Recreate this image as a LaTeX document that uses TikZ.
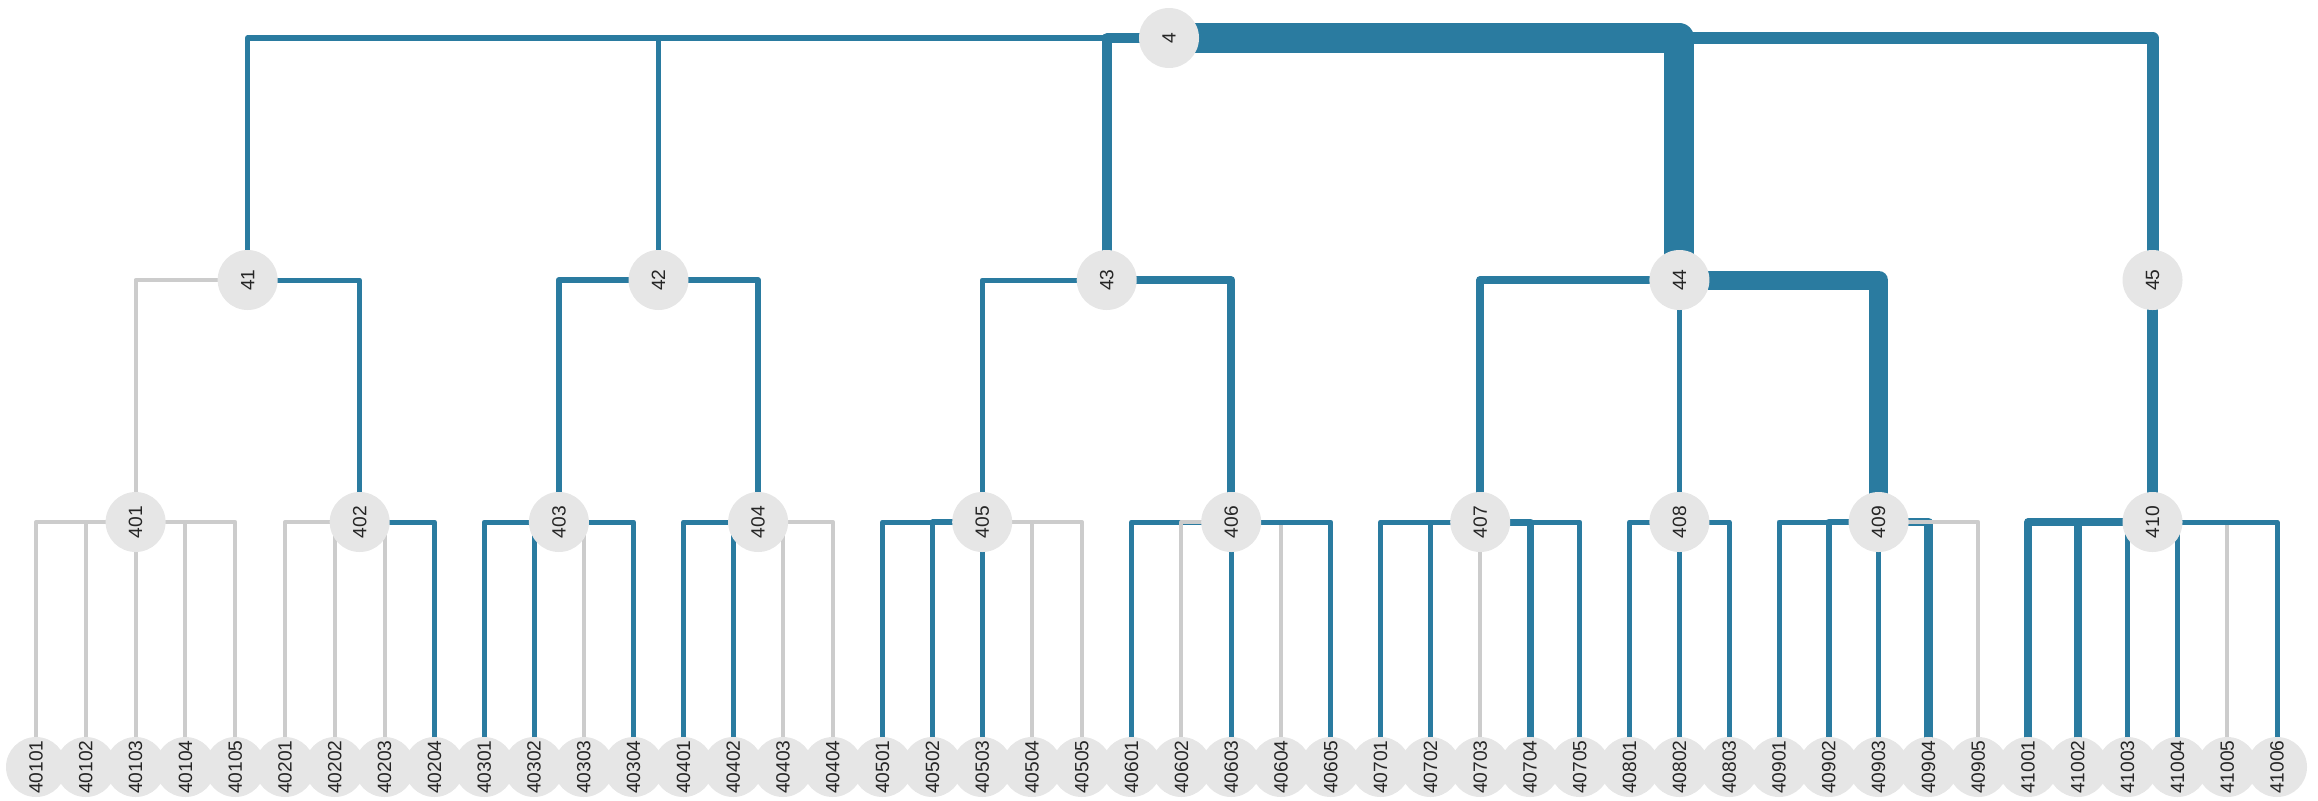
\documentclass[tikz,border=0pt]{standalone}
\usepackage{fontspec}
\setmainfont{Liberation Sans}
\usetikzlibrary{backgrounds}
\definecolor{lblue}{HTML}{2A7BA0}
\definecolor{lgray}{HTML}{CCCCCC}
\definecolor{ngray}{HTML}{E6E6E6}
\begin{document}
\begin{tikzpicture}[x=0.5pt,y=-0.5pt,
  tnode/.style={circle,fill=ngray,inner sep=0pt,minimum size=30pt,rotate=90,
    font=\fontsize{9.6}{11}\selectfont,text=black!85},
  link/.style n args={2}{draw=#1,line width=#2*0.5pt,line join=round}]
\useasboundingbox (0,0) rectangle (2318,800);

% root
\node[tnode] (n4) at (1169,38) {4};
% level 2
\node[tnode] (n41) at (247.65,280) {41};
\node[tnode] (n42) at (658.5,280) {42};
\node[tnode] (n43) at (1106.7,280) {43};
\node[tnode] (n44) at (1679.4,280) {44};
\node[tnode] (n45) at (2152.5,280) {45};
% level 3
\node[tnode] (n401) at (135.6,522) {401};
\node[tnode] (n402) at (359.7,522) {402};
\node[tnode] (n403) at (558.9,522) {403};
\node[tnode] (n404) at (758.1,522) {404};
\node[tnode] (n405) at (982.2,522) {405};
\node[tnode] (n406) at (1231.2,522) {406};
\node[tnode] (n407) at (1480.2,522) {407};
\node[tnode] (n408) at (1679.4,522) {408};
\node[tnode] (n409) at (1878.6,522) {409};
\node[tnode] (n410) at (2152.5,522) {410};
% leaves
\foreach \lab [count=\i from 0] in {40101,40102,40103,40104,40105,40201,40202,40203,40204,40301,40302,40303,40304,40401,40402,40403,40404,40501,40502,40503,40504,40505,40601,40602,40603,40604,40605,40701,40702,40703,40704,40705,40801,40802,40803,40901,40902,40903,40904,40905,41001,41002,41003,41004,41005,41006}
  \node[tnode] (n\lab) at ({36+49.8*\i},767) {\lab};

\begin{scope}[on background layer]
% root links
\foreach \c/\k/\w in {41/lblue/5.5,42/lblue/5.5,43/lblue/10,44/lblue/30,45/lblue/12}
  \draw[link={\k}{\w}] (n4.center) -| (n\c.center);
% level 2 links
\foreach \c/\k/\w in {401/lgray/4,402/lblue/5}
  \draw[link={\k}{\w}] (n41.center) -| (n\c.center);
\foreach \c/\k/\w in {403/lblue/6,404/lblue/6}
  \draw[link={\k}{\w}] (n42.center) -| (n\c.center);
\foreach \c/\k/\w in {405/lblue/5,406/lblue/8}
  \draw[link={\k}{\w}] (n43.center) -| (n\c.center);
\foreach \c/\k/\w in {407/lblue/8,408/lblue/5,409/lblue/19}
  \draw[link={\k}{\w}] (n44.center) -| (n\c.center);
\foreach \c/\k/\w in {410/lblue/11}
  \draw[link={\k}{\w}] (n45.center) -| (n\c.center);
% leaf links
\foreach \c/\k/\w in {40101/lgray/4,40102/lgray/4,40103/lgray/4,40104/lgray/4,40105/lgray/4}
  \draw[link={\k}{\w}] (n401.center) -| (n\c.center);
\foreach \c/\k/\w in {40201/lgray/4,40202/lgray/4,40203/lgray/4,40204/lblue/5}
  \draw[link={\k}{\w}] (n402.center) -| (n\c.center);
\foreach \c/\k/\w in {40301/lblue/5,40302/lblue/5,40303/lgray/4,40304/lblue/5}
  \draw[link={\k}{\w}] (n403.center) -| (n\c.center);
\foreach \c/\k/\w in {40401/lblue/5,40402/lblue/5,40403/lgray/4,40404/lgray/4}
  \draw[link={\k}{\w}] (n404.center) -| (n\c.center);
\foreach \c/\k/\w in {40501/lblue/5,40502/lblue/5.5,40503/lblue/5,40504/lgray/4,40505/lgray/4}
  \draw[link={\k}{\w}] (n405.center) -| (n\c.center);
\foreach \c/\k/\w in {40601/lblue/5,40602/lgray/4,40603/lblue/5,40604/lgray/4,40605/lblue/5}
  \draw[link={\k}{\w}] (n406.center) -| (n\c.center);
\foreach \c/\k/\w in {40701/lblue/5,40702/lblue/5,40703/lgray/4,40704/lblue/7,40705/lblue/5}
  \draw[link={\k}{\w}] (n407.center) -| (n\c.center);
\foreach \c/\k/\w in {40801/lblue/5,40802/lblue/5,40803/lblue/5}
  \draw[link={\k}{\w}] (n408.center) -| (n\c.center);
\foreach \c/\k/\w in {40901/lblue/5,40902/lblue/6.5,40903/lblue/5,40904/lblue/8.5,40905/lgray/4}
  \draw[link={\k}{\w}] (n409.center) -| (n\c.center);
\foreach \c/\k/\w in {41001/lblue/7.5,41002/lblue/7.5,41003/lblue/5,41004/lblue/5,41005/lgray/4,41006/lblue/5}
  \draw[link={\k}{\w}] (n410.center) -| (n\c.center);
\end{scope}
\end{tikzpicture}
\end{document}
